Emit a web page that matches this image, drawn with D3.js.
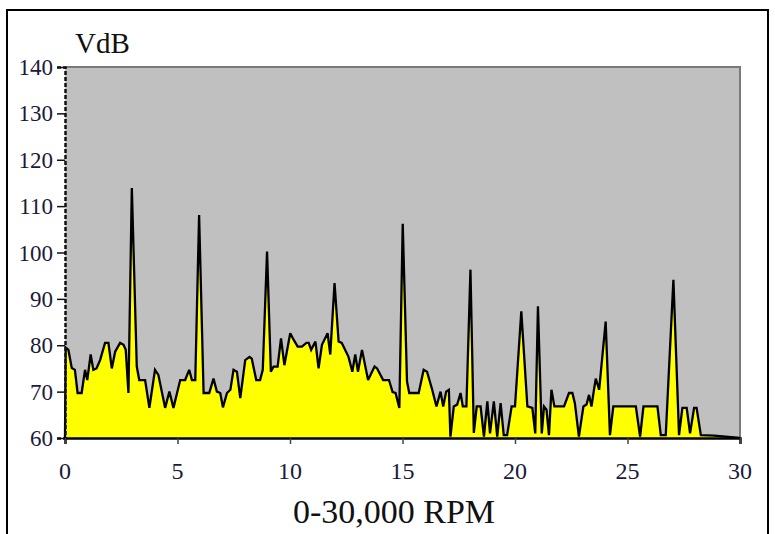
<!DOCTYPE html>
<html>
<head>
<meta charset="utf-8">
<script src="https://cdn.jsdelivr.net/npm/d3@7"></script>
<style>
  html, body { margin: 0; padding: 0; background: #fff; }
  svg { display: block; }
  .serif { font-family: "Liberation Serif", "Times New Roman", serif; }
</style>
</head>
<body>
<svg id="chart" width="775" height="534"></svg>
<script>
// Spectrum data: frequency in thousands of RPM, amplitude in VdB
const rpm = [0,0.03,0.15,0.3,0.44,0.56,0.74,0.89,0.99,1.14,1.26,1.4,1.56,1.78,1.93,2.08,2.23,2.45,2.6,2.7,2.82,2.97,3.19,3.3,3.56,3.75,4.0,4.15,4.45,4.64,4.82,5.12,5.34,5.52,5.64,5.79,5.96,6.16,6.41,6.6,6.75,6.9,7.02,7.2,7.35,7.49,7.64,7.79,8.01,8.2,8.3,8.5,8.67,8.79,8.98,9.15,9.27,9.45,9.6,9.75,10.01,10.16,10.34,10.53,10.73,10.83,10.94,11.13,11.27,11.42,11.67,11.79,11.98,12.16,12.3,12.6,12.77,12.9,13.02,13.2,13.47,13.76,13.87,14.14,14.4,14.56,14.69,14.86,15.01,15.2,15.3,15.72,15.94,16.09,16.32,16.51,16.69,16.81,16.94,17.06,17.13,17.28,17.43,17.58,17.68,17.84,18.02,18.17,18.3,18.47,18.62,18.77,18.89,19.06,19.21,19.36,19.5,19.65,19.85,20.0,20.28,20.55,20.77,20.9,21.02,21.19,21.29,21.4,21.51,21.62,21.75,22.18,22.4,22.55,22.66,22.84,23.04,23.18,23.29,23.4,23.51,23.59,23.74,24.03,24.22,24.37,25.37,25.56,25.71,26.33,26.48,26.7,27.04,27.29,27.44,27.63,27.78,27.96,28.07,28.26,28.85,30];
const vdb = [60,79.5,79,75.1,74.7,69.7,69.7,74.7,72.5,78,74.7,75,76.8,80.5,80.5,75,78.6,80.5,80.1,79,69.7,113.9,75.4,72.5,72.5,66.5,74.7,73.6,66.5,70,66.5,72.5,72.5,74.7,72.5,72.5,108.1,69.7,69.7,72.8,70,69.7,66.6,69.7,70.4,74.7,74.3,68.6,76.8,77.5,77.1,72.5,72.5,74.7,100.2,74.3,75.4,75.4,81.5,75.7,82.6,81.2,79.7,79.7,80.5,80.5,79,80.8,75,80.1,82.6,78,93.4,80.8,80.5,77.5,74.3,78,74.3,79,72.5,75.4,75,72.5,72.5,69.9,69.7,66.5,106.2,72.2,69.7,69.7,74.7,74.3,70.4,66.8,70,66.8,70,70.4,60.3,66.8,67.2,69.7,66.8,66.8,96.3,61.1,66.8,66.8,60.3,67.9,61,67.9,60.3,67.5,60.6,60.6,66.8,66.8,87.3,66.8,66.5,61,88.4,61,66.8,66.1,60.6,70.4,66.8,66.8,69.7,69.7,67.5,60.3,66.8,67.2,69.3,66.8,70.4,72.8,70.4,85.1,60.6,66.8,66.8,60.3,66.8,66.8,60.6,60.6,94.1,60.6,66.5,66.5,61,66.5,66.5,60.6,60.5,60];

const xTicks = [0, 5, 10, 15, 20, 25, 30];
const yTicks = [60, 70, 80, 90, 100, 110, 120, 130, 140];
const yTitle = "VdB";
const xTitle = "0-30,000 RPM";

const points = rpm.map((r, i) => ({ x: r, y: vdb[i] }));

const svg = d3.select("#chart");
const L = 65, R = 740, T = 67, B = 438;

const x = d3.scaleLinear().domain([0, 30]).range([L, R]);
const y = d3.scaleLinear().domain([60, 140]).range([B, T]);

// outer frame
svg.append("rect")
  .attr("x", 7).attr("y", 10).attr("width", 761).attr("height", 540)
  .attr("fill", "none").attr("stroke", "#000").attr("stroke-width", 2);

// plot background
svg.append("rect")
  .attr("x", L).attr("y", T).attr("width", R - L).attr("height", B - T)
  .attr("fill", "#c0c0c0");

// top and right borders
svg.append("line").attr("x1", L).attr("x2", R + 1).attr("y1", T).attr("y2", T)
  .attr("stroke", "#7a7a7a").attr("stroke-width", 2);
svg.append("line").attr("x1", R).attr("x2", R).attr("y1", T).attr("y2", B)
  .attr("stroke", "#7a7a7a").attr("stroke-width", 2);

// area
const area = d3.area().x(d => x(d.x)).y0(y(60)).y1(d => y(d.y));
svg.append("path").datum(points).attr("d", area).attr("fill", "#ffff00");

const line = d3.line().x(d => x(d.x)).y(d => y(d.y));
svg.append("path").datum(points).attr("d", line)
  .attr("fill", "none").attr("stroke", "#000").attr("stroke-width", 2.3)
  .attr("stroke-linejoin", "miter").attr("stroke-miterlimit", 3);

// y axis (lines from the axis generator; labels placed with the same scale)
const yAxis = d3.axisLeft(y).tickValues(yTicks).tickSize(8).tickFormat("");
const gy = svg.append("g").attr("transform", `translate(${L},0)`).call(yAxis);
gy.select(".domain").attr("stroke", "#111").attr("stroke-width", 2.5).attr("stroke-dasharray", "4,2");
gy.selectAll(".tick line").attr("stroke", "#111").attr("stroke-width", 1.5);

svg.append("g")
  .selectAll("text").data(yTicks).join("text")
  .attr("class", "serif")
  .attr("x", L - 12).attr("y", d => y(d)).attr("dy", "0.35em")
  .attr("text-anchor", "end")
  .style("font-size", "23px").style("fill", "#1a1a3a")
  .text(d => d);

// x axis
const xAxis = d3.axisBottom(x).tickValues(xTicks).tickSize(6).tickFormat("");
const gx = svg.append("g").attr("transform", `translate(0,${B})`).call(xAxis);
gx.select(".domain").attr("stroke", "#000").attr("stroke-width", 2.5);
gx.selectAll(".tick line").attr("stroke", "#444").attr("stroke-width", 1.5);

svg.append("g")
  .selectAll("text").data(xTicks).join("text")
  .attr("class", "serif")
  .attr("x", d => x(d)).attr("y", 479)
  .attr("text-anchor", "middle")
  .style("font-size", "24px").style("fill", "#1a1a3a")
  .text(d => d);

// titles
svg.append("text").attr("class", "serif").attr("x", 75).attr("y", 53).text(yTitle)
  .style("font-size", "29px").style("fill", "#111");
svg.append("text").attr("class", "serif").attr("x", 394).attr("y", 523).attr("text-anchor", "middle").text(xTitle)
  .style("font-size", "34px").style("fill", "#111");
</script>
</body>
</html>
